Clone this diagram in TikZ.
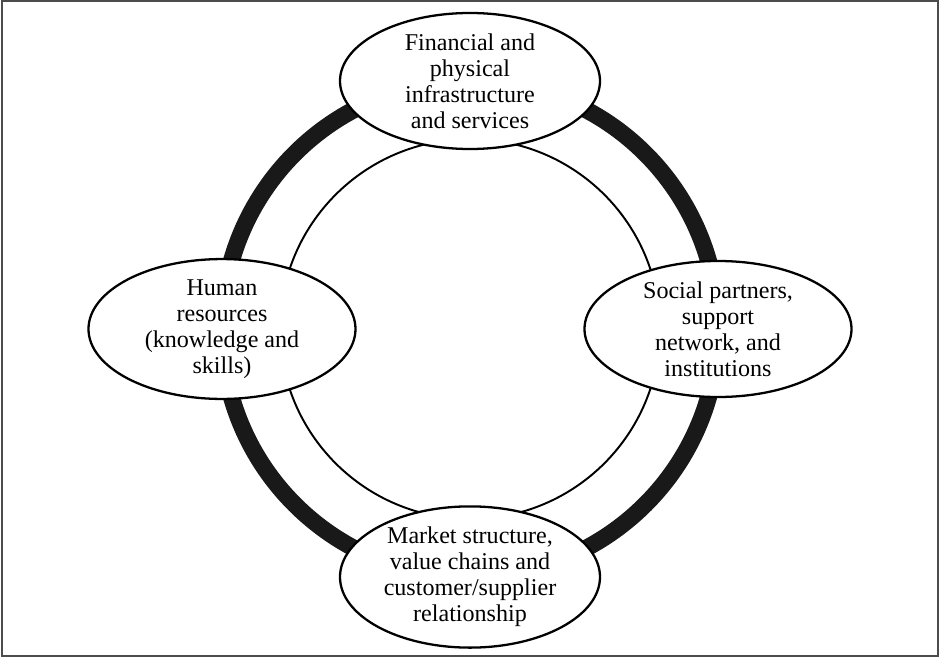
\documentclass[tikz,border=0pt]{standalone}
\usepackage{fontspec}
\setmainfont{Liberation Serif}
\usetikzlibrary{shapes.geometric}

\begin{document}
\begin{tikzpicture}
		\newcommand{\ringrad}{4.96}
		\newcommand{\innerrad}{3.8}
		\newcommand{\ringw}{0.34cm} % width of the thick ring

		% set the style of the ellipses
		\tikzset{
			factor/.style={
				ellipse,
				draw,
				fill=white,
				line width=1.3pt,
				inner sep=0pt,
				minimum height=2.72cm,
				align=center,
				font=\fontsize{13.7}{14.8}\selectfont
				}
		}

		\useasboundingbox (-9.4,-6.58) rectangle (9.4,6.58);
		\draw[line width=0.04cm, black!70] (-9.36,-6.54) rectangle (9.36,6.56);

		% rings
		\coordinate (c) at (0,0);
		\draw[line width=\ringw, black!90] (c) circle (\ringrad);
		\draw[line width=1.1pt] (c) circle (\innerrad);

		% factors
		\node[factor, minimum width=5.2cm] (fin) at (0,\ringrad) {Financial and\\physical\\infrastructure\\and services};
		\node[factor, minimum width=5.34cm] (hum) at (-\ringrad,0) {Human\\resources\\(knowledge and\\skills)};
		\node[factor, minimum width=5.34cm] (soc) at (\ringrad,0) {Social partners,\\support\\network, and\\institutions};
		\node[factor, minimum width=5.2cm] (mkt) at (0,-\ringrad) {Market structure,\\value chains and\\customer/supplier\\relationship};

\end{tikzpicture}
\end{document}
